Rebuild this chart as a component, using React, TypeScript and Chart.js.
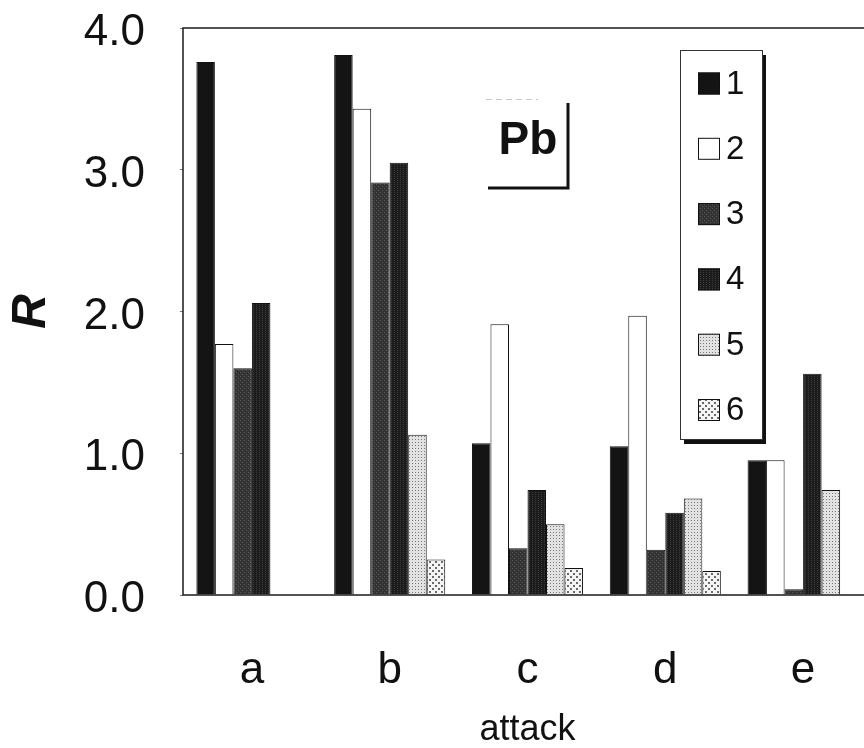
import React, { useEffect, useRef } from "react";
import { Chart, registerables } from "chart.js";

Chart.register(...registerables);

const categories = ["a", "b", "c", "d", "e"];
const seriesLabels = ["1", "2", "3", "4", "5", "6"];
const series1 = [3.76, 3.81, 1.07, 1.05, 0.95];
const series2 = [1.77, 3.43, 1.91, 1.97, 0.95];
const series3 = [1.6, 2.91, 0.33, 0.32, 0.04];
const series4 = [2.06, 3.05, 0.74, 0.58, 1.56];
const series5 = [null, 1.13, 0.5, 0.68, 0.74];
const series6 = [null, 0.25, 0.19, 0.17, null];
const yMin = 0;
const yMax = 4;
const yStep = 1;
const xTitle = "attack";
const yTitle = "R";
const panelLabel = "Pb";

const FONT = "'Liberation Sans', Arial, Helvetica, sans-serif";

function makePattern(kind: number): CanvasPattern | string {
  const c = document.createElement("canvas");
  const g = c.getContext("2d")!;
  if (kind === 3) {
    c.width = 4; c.height = 4;
    g.fillStyle = "#363636"; g.fillRect(0, 0, 4, 4);
    g.fillStyle = "#555555"; g.fillRect(0, 0, 1, 1); g.fillRect(2, 2, 1, 1);
    g.fillStyle = "#2a2a2a"; g.fillRect(1, 3, 1, 1); g.fillRect(3, 1, 1, 1);
  } else if (kind === 4) {
    c.width = 3; c.height = 2;
    g.fillStyle = "#1c1c1c"; g.fillRect(0, 0, 3, 2);
    g.fillStyle = "#3c3c3c"; g.fillRect(1, 0, 1, 1);
  } else if (kind === 5) {
    c.width = 3; c.height = 3;
    g.fillStyle = "#e2e2e2"; g.fillRect(0, 0, 3, 3);
    g.fillStyle = "#7a7a7a"; g.fillRect(1, 1, 1, 1);
  } else {
    c.width = 6; c.height = 6;
    g.fillStyle = "#f4f4f4"; g.fillRect(0, 0, 6, 6);
    g.fillStyle = "#6a6a6a"; g.fillRect(0, 0, 2, 2); g.fillRect(3, 3, 2, 2);
  }
  return g.createPattern(c, "repeat") as CanvasPattern;
}

export default function App() {
  const ref = useRef<HTMLCanvasElement>(null);

  useEffect(() => {
    const canvas = ref.current!;
    const fills: (string | CanvasPattern)[] = [
      "#141414",
      "#ffffff",
      makePattern(3),
      makePattern(4),
      makePattern(5),
      makePattern(6),
    ];
    const values = [series1, series2, series3, series4, series5, series6];

    const decor = {
      id: "decor",
      afterDatasetsDraw(chart: any) {
        const { ctx, chartArea: a } = chart;
        ctx.save();
        // plot frame
        ctx.strokeStyle = "#1a1a1a";
        ctx.lineWidth = 1.5;
        ctx.strokeRect(a.left, a.top, a.right - a.left, a.bottom - a.top);

        // "Pb" panel label with shadow corner
        const px = a.left + 345;
        const py = a.top + 113;
        ctx.fillStyle = "#111";
        ctx.font = `bold 46px ${FONT}`;
        ctx.textAlign = "center";
        ctx.textBaseline = "middle";
        ctx.fillText(panelLabel, px, py);
        ctx.strokeStyle = "#111";
        ctx.lineWidth = 3;
        ctx.beginPath();
        ctx.moveTo(a.left + 385, a.top + 75);
        ctx.lineTo(a.left + 385, a.top + 160);
        ctx.lineTo(a.left + 305, a.top + 160);
        ctx.stroke();
        ctx.strokeStyle = "#c8c8c8";
        ctx.lineWidth = 1;
        ctx.setLineDash([6, 4]);
        ctx.beginPath();
        ctx.moveTo(a.left + 303, a.top + 71.5);
        ctx.lineTo(a.left + 355, a.top + 71.5);
        ctx.stroke();
        ctx.setLineDash([]);

        // legend box
        const lx = a.left + 497;
        const ly = a.top + 22;
        const lw = 82;
        const lh = 389;
        ctx.fillStyle = "#111";
        ctx.fillRect(lx + 4, ly + 5, lw, lh);
        ctx.fillStyle = "#fff";
        ctx.fillRect(lx, ly, lw, lh);
        ctx.strokeStyle = "#333";
        ctx.lineWidth = 1;
        ctx.strokeRect(lx + 0.5, ly + 0.5, lw, lh);
        ctx.font = `33px ${FONT}`;
        ctx.textAlign = "left";
        ctx.textBaseline = "middle";
        chart.data.datasets.forEach((ds: any, i: number) => {
          const cy = ly + 33.5 + i * 65.3;
          ctx.fillStyle = ds.backgroundColor;
          ctx.fillRect(lx + 18, cy - 11, 22, 22);
          ctx.strokeStyle = "#111";
          ctx.lineWidth = 1;
          ctx.strokeRect(lx + 18.5, cy - 10.5, 21, 21);
          ctx.fillStyle = "#111";
          ctx.fillText(ds.label, lx + 46, cy + 1);
        });
        ctx.restore();
      },
    };

    const chart = new Chart(canvas, {
      type: "bar",
      data: {
        labels: categories,
        datasets: values.map((v, i) => ({
          label: seriesLabels[i],
          data: v,
          backgroundColor: fills[i],
          borderColor: "#111",
          borderWidth: 1,
          borderSkipped: "start",
          categoryPercentage: 0.806,
          barPercentage: 1.0,
        })),
      },
      options: {
        animation: false,
        responsive: false,
        devicePixelRatio: 1,
        layout: { padding: { top: 28, right: 8, left: 0, bottom: 0 } },
        plugins: {
          legend: { display: false },
          tooltip: { enabled: false },
        },
        scales: {
          x: {
            grid: { display: false },
            border: { display: false },
            ticks: {
              color: "#111",
              padding: 41,
              font: { family: FONT, size: 44 },
              maxRotation: 0,
            },
            title: {
              display: true,
              text: xTitle,
              color: "#111",
              font: { family: FONT, size: 36, lineHeight: 1 },
              padding: { top: 0, bottom: 0 },
            },
            afterFit: (s: any) => {
              s.height = 153;
              s.paddingLeft = 0;
              s.paddingRight = 0;
            },
          },
          y: {
            min: yMin,
            max: yMax,
            grid: {
              display: true,
              drawOnChartArea: false,
              drawTicks: true,
              tickLength: 3,
              color: "#777",
            },
            border: { display: false },
            ticks: {
              stepSize: yStep,
              color: "#111",
              padding: 35,
              labelOffset: 5,
              font: { family: FONT, size: 44 },
              callback: (v: any) => Number(v).toFixed(1),
            },
            title: {
              display: true,
              text: yTitle,
              color: "#111",
              font: { family: FONT, size: 48, weight: "bold", style: "italic", lineHeight: 1.2 },
              padding: { top: 3, bottom: 0 },
            },
            afterFit: (s: any) => {
              s.width = 183;
              s.paddingTop = 0;
              s.paddingBottom = 0;
            },
          },
        },
      },
      plugins: [decor],
    });
    return () => chart.destroy();
  }, []);

  return (
    <div
      style={{
        position: "fixed",
        left: 0,
        top: 0,
        width: 864,
        height: 748,
        overflow: "hidden",
        background: "#fff",
      }}
    >
      <canvas ref={ref} width={880} height={748} style={{ display: "block" }} />
    </div>
  );
}
